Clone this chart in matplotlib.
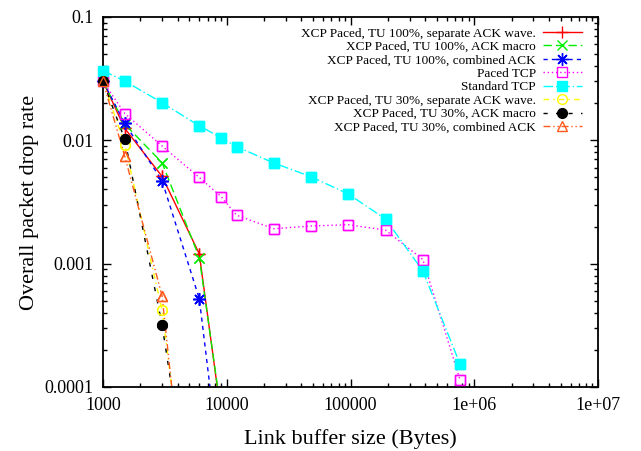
import matplotlib
matplotlib.use("Agg")
import matplotlib.pyplot as plt
import numpy as np
from matplotlib.ticker import LogLocator, FixedLocator, FixedFormatter, NullFormatter

plt.rcParams['font.family'] = ['Liberation Serif', 'DejaVu Serif']

# ---- data ----
x_tcp = [1000, 1500, 3000, 6000, 9000, 12000, 24000, 48000, 96000, 192000, 384000, 768000]
standard_tcp = [0.0367, 0.0302, 0.0202, 0.0131, 0.0105, 0.0089, 0.00655, 0.00507, 0.00367, 0.0023, 0.000875, 0.000153]
paced_tcp = [0.030, 0.0165, 0.0090, 0.0050, 0.0035, 0.00247, 0.00192, 0.00202, 0.00207, 0.00187, 0.00108, 0.000114]

x_tu100 = [1000, 1500, 3000, 6000, 9000]
tu100_separate = [0.030, 0.0125, 0.0051, 0.0012, 5.9e-5]
tu100_macro = [0.030, 0.0135, 0.0066, 0.00112, 6.3e-5]
tu100_combined = [0.030, 0.0137, 0.0047, 0.00052, 1.8e-5]

x_tu30 = [1000, 1500, 3000, 6000]
tu30_separate = [0.030, 0.0092, 0.00042, 1.7e-6]
tu30_macro = [0.030, 0.0102, 0.00032, 3.5e-6]
tu30_combined = [0.030, 0.0074, 0.00055, 8e-7]

labels = [
    "XCP Paced, TU 100%, separate ACK wave.",
    "XCP Paced, TU 100%, ACK macro",
    "XCP Paced, TU 100%, combined ACK",
    "Paced TCP",
    "Standard TCP",
    "XCP Paced, TU 30%, separate ACK wave.",
    "XCP Paced, TU 30%, ACK macro",
    "XCP Paced, TU 30%, combined ACK",
]
x_ticks = [1000, 10000, 100000, 1e6, 1e7]
x_ticklabels = ["1000", "10000", "100000", "1e+06", "1e+07"]
y_ticks = [0.0001, 0.001, 0.01, 0.1]
y_ticklabels = ["0.0001", "0.001", "0.01", "0.1"]

series = [
    (x_tu100, tu100_separate, dict(color='#ff0000', ls='-', marker='+', ms=9, mew=1.0, mfc='none')),
    (x_tu100, tu100_macro, dict(color='#00ee00', ls=(0, (6, 3)), marker='x', ms=7, mew=1.0, mfc='none')),
    (x_tu100, tu100_combined, dict(color='#0000ff', ls=(0, (3, 3)), marker=(8, 2, 0), ms=9, mew=1.0, mfc='none')),
    (x_tcp, paced_tcp, dict(color='#ff00ff', ls=(0, (1, 2)), marker='s', ms=7, mew=1.0, mfc='none')),
    (x_tcp, standard_tcp, dict(color='#00ffff', ls=(0, (7, 2, 1, 2)), marker='s', ms=7, mew=1.0, mfc='#00ffff')),
    (x_tu30, tu30_separate, dict(color='#ffff00', ls=(0, (4, 3, 1, 3)), marker='o', ms=7, mew=1.0, mfc='none')),
    (x_tu30, tu30_macro, dict(color='#000000', ls=(0, (3, 6)), marker='o', ms=7, mew=1.0, mfc='#000000')),
    (x_tu30, tu30_combined, dict(color='#ff5a1e', ls=(0, (5, 2, 1, 2, 1, 2)), marker='^', ms=7, mew=1.0, mfc='none')),
]

fig = plt.figure(figsize=(6.41, 4.51), dpi=100)
ax = fig.add_axes([103/641, 1-387/451, 495/641, 370/451])
ax.set_xscale('log')
ax.set_yscale('log')
ax.set_xlim(1000, 1e7)
ax.set_ylim(0.0001, 0.1)

for (xs, ys, st), lab in zip(series, labels):
    ax.plot(xs, ys, lw=1.0, label=lab, **st)
    xa = np.array(xs, dtype=float)
    ya = np.array(ys, dtype=float)
    m = ya >= 0.0001
    st2 = dict(st)
    st2['ls'] = 'none'
    ax.plot(xa[m], ya[m], clip_on=False, zorder=3, **st2)

ax.xaxis.set_major_locator(FixedLocator(x_ticks))
ax.xaxis.set_major_formatter(FixedFormatter(x_ticklabels))
ax.yaxis.set_major_locator(FixedLocator(y_ticks))
ax.yaxis.set_major_formatter(FixedFormatter(y_ticklabels))
ax.xaxis.set_minor_locator(LogLocator(base=10, subs=np.arange(2, 10), numticks=20))
ax.yaxis.set_minor_locator(LogLocator(base=10, subs=np.arange(2, 10), numticks=20))
ax.xaxis.set_minor_formatter(NullFormatter())
ax.yaxis.set_minor_formatter(NullFormatter())
ax.tick_params(which='both', direction='in', top=True, right=True, labelsize=13, width=1.0)
ax.tick_params(which='major', length=6, pad=7)
ax.tick_params(which='minor', length=3)
for sp in ax.spines.values():
    sp.set_linewidth(1.3)

ax.set_xlabel("Link buffer size (Bytes)", fontsize=16, labelpad=11)
ax.set_ylabel("Overall packet drop rate", fontsize=16, labelpad=4)

leg = ax.legend(loc='upper right', bbox_to_anchor=(0.968, 0.972), frameon=False,
                markerfirst=False, fontsize=9.5, handlelength=3.0, handletextpad=0.5,
                labelspacing=0.09, borderaxespad=0, borderpad=0)

fig.savefig("out.png", dpi=100)
